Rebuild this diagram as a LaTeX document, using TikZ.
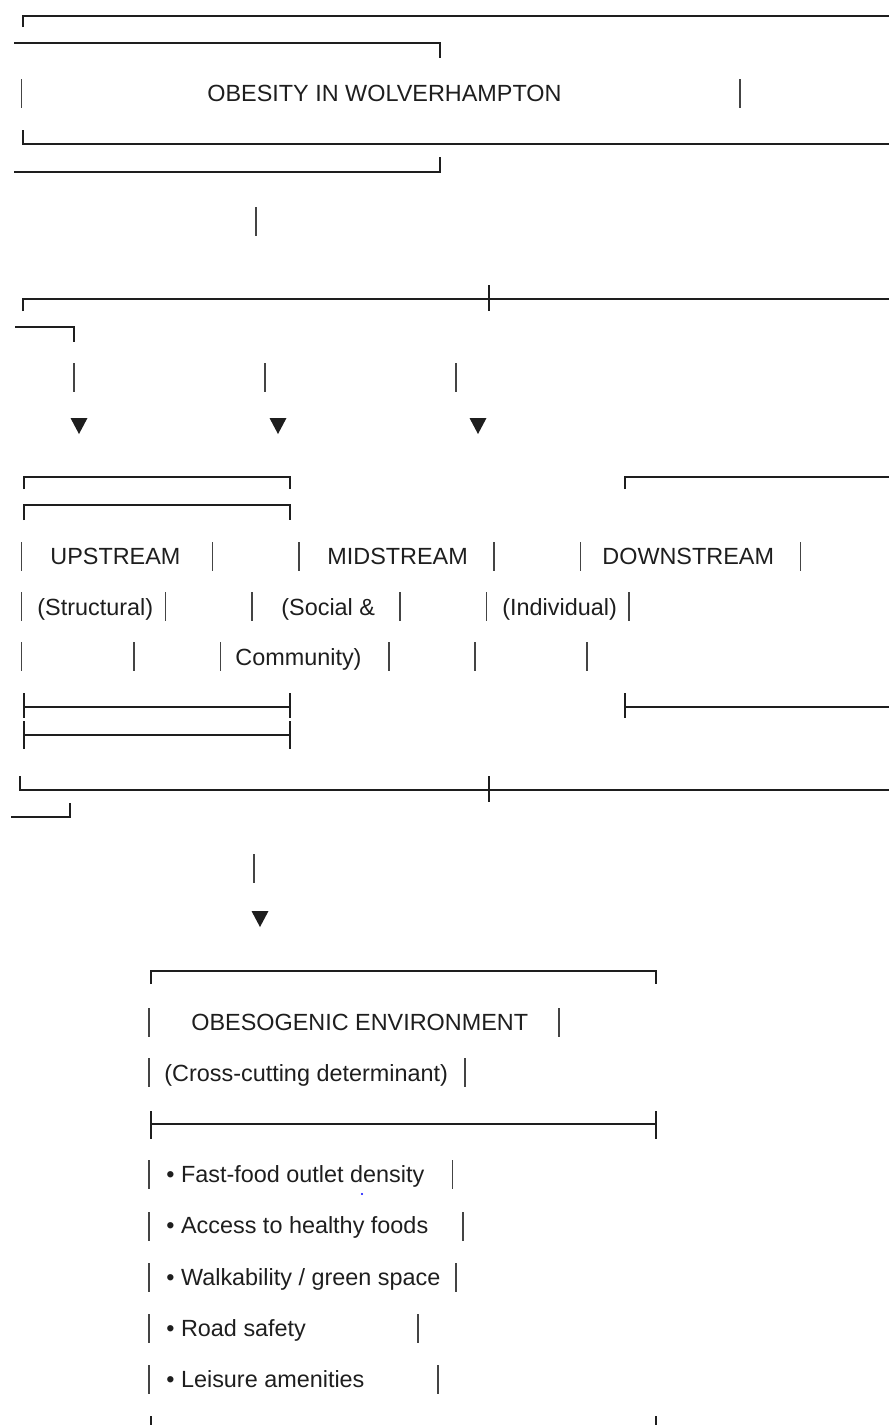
\documentclass[tikz,border=0pt]{standalone}
\usepackage{fontspec}
\setmainfont{Liberation Sans}
\usetikzlibrary{positioning}
\definecolor{ink}{HTML}{1E1E1E}
\definecolor{pipe}{HTML}{444444}
\tikzset{
  rule/.style={draw=ink,line width=1.2pt},
  bar/.style={draw=pipe,line width=0.85pt},
  lbl/.style={anchor=base west,inner sep=0pt,text=ink,
    font=\fontsize{11.7}{14}\selectfont},
  tip/.style={fill=ink},
}
\begin{document}
\begin{tikzpicture}[x=0.5pt,y=-0.5pt]
    \useasboundingbox (0,0) rectangle (889,1425);
    % title box
    \draw[rule] (23,27) -- (23,16) -- (889,16);
    \draw[rule] (14,43) -- (440,43) -- (440,58);
    \node[lbl] (title) at (207,101.5) {OBESITY IN WOLVERHAMPTON};
    \draw[rule] (23,130) -- (23,144) -- (889,144);
    \draw[rule] (14,172) -- (440,172) -- (440,157);
    % splitter
    \draw[rule] (23,311) -- (23,299) -- (889,299);
    \draw[rule] (489,285) -- (489,311);
    \draw[rule] (15,327) -- (74,327) -- (74,342);
    % arrow heads
    \foreach \cx/\ty in {79/418,278/418,478/418,260/911}
        \fill[tip] (\cx-8.5,\ty) -- (\cx+8.5,\ty) -- (\cx,\ty+16) -- cycle;
    % stream boxes
    \draw[rule] (24,489) -- (24,477) -- (290,477) -- (290,489);
    \draw[rule] (625,489) -- (625,477) -- (889,477);
    \draw[rule] (24,520) -- (24,505) -- (290,505) -- (290,520);
    \node[lbl] (up) at (50,564) {UPSTREAM};
    \node[lbl] (mid) at (327,564) {MIDSTREAM};
    \node[lbl] (down) at (602,564) {DOWNSTREAM};
    \node[lbl] (upsub) at (37,615) {(Structural)};
    \node[lbl] (midsub) at (281,615) {(Social \&};
    \node[lbl] (downsub) at (502,615) {(Individual)};
    \node[lbl] (midsubb) at (235,665) {Community)};
    \draw[rule] (24,707) -- (290,707);
    \draw[rule] (625,707) -- (889,707);
    \foreach \x in {24,290,625}
        \draw[rule] (\x,693) -- (\x,718);
    \draw[rule] (24,735) -- (290,735);
    \foreach \x in {24,290}
        \draw[rule] (\x,721) -- (\x,749);
    % joiner
    \draw[rule] (20,776) -- (20,790) -- (889,790);
    \draw[rule] (489,776) -- (489,802);
    \draw[rule] (11,817) -- (70,817) -- (70,803);
    % environment box
    \draw[rule] (151,984) -- (151,971) -- (656,971) -- (656,984);
    \node[lbl] (env) at (191,1030) {OBESOGENIC ENVIRONMENT};
    \node[lbl] (envsub) at (164,1081) {(Cross-cutting determinant)};
    \draw[rule] (151,1124) -- (656,1124);
    \foreach \x in {151,656}
        \draw[rule] (\x,1111) -- (\x,1139);
    \node[lbl] (item1) at (166,1182) {• Fast-food outlet density};
    \node[lbl] (item2) at (166,1233) {• Access to healthy foods};
    \node[lbl] (item3) at (166,1285) {• Walkability / green space};
    \node[lbl] (item4) at (166,1336) {• Road safety};
    \node[lbl] (item5) at (166,1387) {• Leisure amenities};
    \fill[blue] (362,1194) circle (0.6pt);
    \foreach \x in {151,656}
        \draw[rule] (\x,1416) -- (\x,1425);
    % pipes
    \foreach \ty/\xs in {79/{21.5,740},207/{256},363/{74,265,456},
        542/{21.5,212.6,298.8,494,580.5,800.5},
        592/{21.5,165.5,251.7,400,486.4,629},
        642/{21.5,134,220.5,389,475,587},854/{254},
        1008/{149,559},1058/{149,465},1160/{149,452.5},1212/{149,463},
        1263/{149,456},1314/{149,418},1365/{149,438}}
        \foreach \x in \xs
            \draw[bar] (\x,\ty) -- ++(0,29);
\end{tikzpicture}
\end{document}
